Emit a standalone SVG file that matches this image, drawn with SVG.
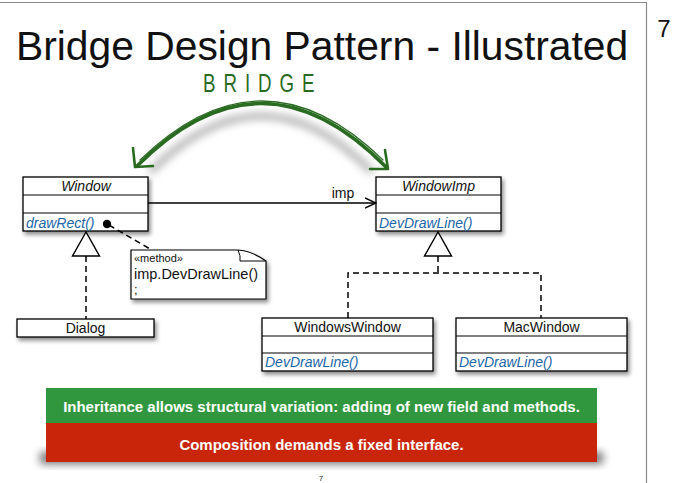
<svg xmlns="http://www.w3.org/2000/svg" width="675" height="483" viewBox="0 0 675 483">
  <defs>
    <filter id="shadow" x="-10%" y="-20%" width="125%" height="160%">
      <feDropShadow dx="2" dy="3" stdDeviation="2" flood-color="#000" flood-opacity="0.45"/>
    </filter>
    <filter id="soft" x="-20%" y="-50%" width="140%" height="200%">
      <feGaussianBlur stdDeviation="4"/>
    </filter>
    <marker id="open" viewBox="0 0 12 12" refX="11" refY="6" markerWidth="12" markerHeight="12" markerUnits="userSpaceOnUse" orient="auto">
      <path d="M0,1 L11,6 L0,11" fill="none" stroke="#000" stroke-width="1.4"/>
    </marker>
  </defs>
  <style>
    .box { fill: #fff; stroke: #000; stroke-width: 1.3; }
    .div { stroke: #000; stroke-width: 1.1; }
    .line { fill: none; stroke: #000; stroke-width: 1.4; }
    .dash { fill: none; stroke: #000; stroke-width: 1.5; stroke-dasharray: 6 4; }
    .tri { fill: #fff; stroke: #000; stroke-width: 1.4; }
    .name { font-family: "Liberation Sans", Arial, sans-serif; font-size: 14px; fill: #111; text-anchor: middle; }
    .abs { font-style: italic; }
    .op { font-family: "Liberation Sans", Arial, sans-serif; font-size: 14px; font-style: italic; fill: #2166a8; }
    .note { font-family: "Liberation Sans", Arial, sans-serif; fill: #111; }
    .band { font-family: "Liberation Sans", Arial, sans-serif; font-size: 15px; font-weight: bold; fill: #fff; text-anchor: middle; }
    .brush { fill: none; stroke: #2a6b22; stroke-linecap: round; stroke-linejoin: round; }
  </style>

  <!-- slide frame -->
  <path d="M0,2.5 H646.5 V483" fill="none" stroke="#8a8a8a" stroke-width="1.2"/>
  <text x="664" y="37" font-family="Liberation Sans, Arial, sans-serif" font-size="24" text-anchor="middle" fill="#111">7</text>

  <!-- title -->
  <text x="16" y="60" font-family="Liberation Sans, Arial, sans-serif" font-size="40.8" fill="#111">Bridge Design Pattern - Illustrated</text>

  <!-- bridge annotation -->
  <g id="bridge">
    <text transform="translate(203,92) scale(0.72,1)" x="0" y="0" font-family="Liberation Sans, Arial, sans-serif" font-size="26" fill="#2a6b22" textLength="155" lengthAdjust="spacing">BRIDGE</text>
    <path d="M150,172 Q262,60 372,172" fill="none" stroke="#000" stroke-opacity="0.35" stroke-width="6" filter="url(#soft)"/>
    <path class="brush" stroke-width="3.6" d="M137,166 Q262,40 387,168"/>
    <path class="brush" stroke-width="1.2" d="M140,160 Q262,42 383,160"/>
    <path class="brush" stroke-width="2.6" d="M133,148 L135,167 L153,166"/>
    <path class="brush" stroke-width="2.6" d="M385,150 L388,169 L370,169"/>
  </g>

  <!-- abstraction -->
  <g id="Window">
    <rect class="box" x="23" y="177" width="125" height="54" filter="url(#shadow)"/>
    <line class="div" x1="23" y1="195" x2="148" y2="195"/>
    <line class="div" x1="23" y1="213" x2="148" y2="213"/>
    <text x="86" y="191" class="name abs">Window</text>
    <text x="26" y="228" class="op">drawRect()</text>
  </g>

  <!-- implementor -->
  <g id="WindowImp">
    <rect class="box" x="376" y="177" width="125" height="54" filter="url(#shadow)"/>
    <line class="div" x1="376" y1="195" x2="501" y2="195"/>
    <line class="div" x1="376" y1="213" x2="501" y2="213"/>
    <text x="438.5" y="191" class="name abs">WindowImp</text>
    <text x="379" y="228" class="op">DevDrawLine()</text>
  </g>

  <!-- note attached to drawRect -->
  <g id="note">
    <path d="M131,250 H238 Q252,251 266,261 V299 H131 Z" fill="#fff" stroke="#000" stroke-width="1.2" filter="url(#shadow)"/>
    <path d="M238,250 Q241,256 240,261 H266" fill="none" stroke="#000" stroke-width="1"/>
    <text x="134" y="262" class="note" font-size="11">«method»</text>
    <text x="134" y="279" class="note" font-size="14.5">imp.DevDrawLine()</text>
    <text x="134" y="294" class="note" font-size="13">;</text>
  </g>

  <!-- refined abstraction -->
  <g id="Dialog">
    <rect class="box" x="17" y="319" width="137" height="18" filter="url(#shadow)"/>
    <text x="85.5" y="333" class="name">Dialog</text>
  </g>

  <!-- concrete implementors -->
  <g id="WindowsWindow">
    <rect class="box" x="262" y="318" width="171" height="53" filter="url(#shadow)"/>
    <line class="div" x1="262" y1="336" x2="433" y2="336"/>
    <line class="div" x1="262" y1="353" x2="433" y2="353"/>
    <text x="347.5" y="332" class="name">WindowsWindow</text>
    <text x="265" y="367" class="op">DevDrawLine()</text>
  </g>

  <g id="MacWindow">
    <rect class="box" x="456" y="318" width="171" height="53" filter="url(#shadow)"/>
    <line class="div" x1="456" y1="336" x2="627" y2="336"/>
    <line class="div" x1="456" y1="353" x2="627" y2="353"/>
    <text x="541.5" y="332" class="name">MacWindow</text>
    <text x="459" y="367" class="op">DevDrawLine()</text>
  </g>

  <!-- connectors -->
  <g id="connectors">
    <line class="line" x1="148" y1="203" x2="376" y2="203" marker-end="url(#open)"/>
    <text x="343" y="198" class="name">imp</text>
    <path class="dash" d="M86,256 V319"/>
    <path class="dash" d="M438,256 V273 M348,318 V273 H541 V318"/>
    <path class="dash" d="M109,225 L150,249"/>
    <circle cx="107" cy="224" r="4.2" fill="#000"/>
    <path class="tri" d="M86,232 L72.5,256 L99.5,256 Z"/>
    <path class="tri" d="M438,232 L424.5,256 L451.5,256 Z"/>
  </g>

  <!-- summary bands -->
  <g id="summary">
    <rect x="40" y="452" width="563" height="12" fill="#000" opacity="0.55" filter="url(#soft)"/>
    <rect x="46" y="388" width="551" height="35" fill="#31973f"/>
    <rect x="46" y="423" width="551" height="39" fill="#c8250b"/>
    <text x="321.5" y="412" class="band">Inheritance allows structural variation: adding of new field and methods.</text>
    <text x="321.5" y="450" class="band">Composition demands a fixed interface.</text>
  </g>

  <text x="321" y="481" font-family="Liberation Sans, Arial, sans-serif" font-size="8" text-anchor="middle" fill="#333">7</text>
</svg>
